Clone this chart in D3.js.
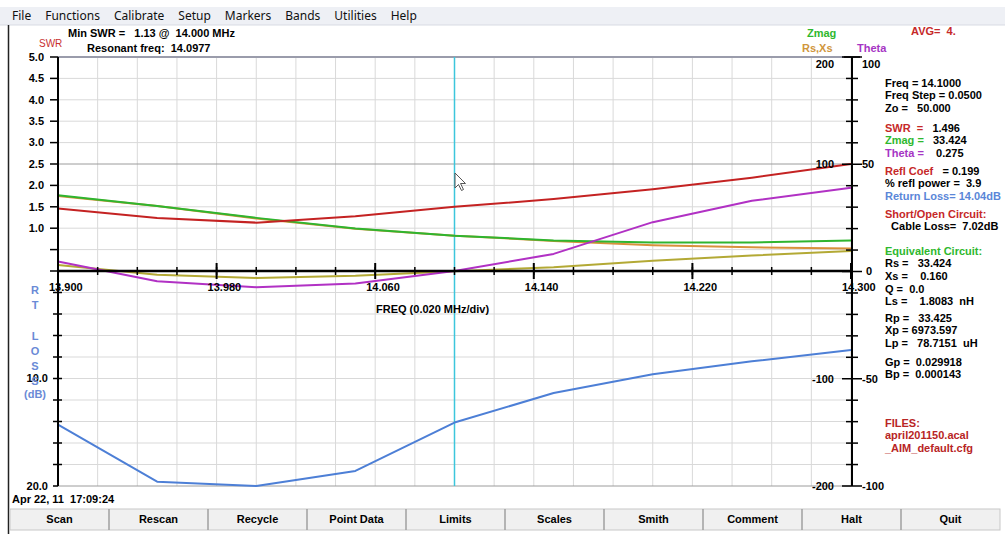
<!DOCTYPE html>
<html>
<head>
<meta charset="utf-8">
<script src="https://cdn.jsdelivr.net/npm/d3@7"></script>
<style>
html, body { margin: 0; padding: 0; background: #fff; }
svg { display: block; font-family: "Liberation Sans", Arial, sans-serif; }
text { white-space: pre; }
.b { font-weight: bold; font-size: 11px; }
.menu { font-family: "Noto Sans", sans-serif; font-size: 12px; fill: #111; }
</style>
</head>
<body>
<svg id="chart" width="1005" height="534"></svg>
<script>

// sweep data (one point every Freq Step)
var freqs    = [13.90, 13.95, 14.00, 14.05, 14.10, 14.15, 14.20, 14.25, 14.30];
var swr      = [1.46, 1.24, 1.13, 1.28, 1.50, 1.68, 1.91, 2.18, 2.50];
var zmag     = [71, 61, 50, 40, 33.4, 29, 27, 27, 29];
var rs       = [70.5, 61, 49.5, 39.8, 33.4, 28.5, 24.5, 22.5, 21.5];
var xs       = [6, -3, -6, -4, 0.16, 4, 10, 15, 19];
var theta    = [4.7, -4.5, -7.3, -5.6, 0.275, 8.2, 23, 33, 39];
var retLoss  = [14.3, 19.6, 20.0, 18.6, 14.1, 11.35, 9.6, 8.4, 7.35];
var markerFreq = 14.10;

// axis ticks / labels
var freqMajor   = [13.90, 13.98, 14.06, 14.14, 14.22, 14.30];
var freqLabels  = ["13.900", "13.980", "14.060", "14.140", "14.220", "14.300"];
var swrTicks    = [5.0, 4.5, 4.0, 3.5, 3.0, 2.5, 2.0, 1.5, 1.0, 0.5, 0];
var swrLabels   = ["5.0", "4.5", "4.0", "3.5", "3.0", "2.5", "2.0", "1.5", "1.0", "", ""];
var rlTicks     = [2, 4, 6, 8, 10, 12, 14, 16, 18, 20];
var rlLabels    = ["", "", "", "", "10.0", "", "", "", "", "20.0"];
var zLabelVals  = [200, 100, -100, -200];
var zLabels     = ["200", "100", "-100", "-200"];
var thLabelVals = [100, 50, 0, -50, -100];
var thLabels    = ["100", "50", "0", "-50", "-100"];
var rlTitle     = ["R", "T", "", "L", "O", "S", "S"];

var menuItems = ["File", "Functions", "Calibrate", "Setup", "Markers", "Bands", "Utilities", "Help"];
var buttons   = ["Scan", "Rescan", "Recycle", "Point Data", "Limits", "Scales", "Smith", "Comment", "Halt", "Quit"];

// readout panel: groups of lines, each line a list of [text, colour]
var readout = [
  [[["Freq = 14.1000", "#000"]], [["Freq Step = 0.0500", "#000"]], [["Zo =   50.000", "#000"]]],
  [[["SWR  =   ", "#c62828"], ["1.496", "#000"]], [["Zmag =   ", "#2eb82e"], ["33.424", "#000"]], [["Theta =    ", "#a635c4"], ["0.275", "#000"]]],
  [[["Refl Coef   ", "#c62828"], ["= 0.199", "#000"]], [["% refl power =  3.9", "#000"]], [["Return Loss= 14.04dB", "#5a86d8"]]],
  [[["Short/Open Circuit:", "#c62828"]], [["  Cable Loss=  7.02dB", "#000"]]],
  [[["Equivalent Circuit:", "#2eb82e"]], [["Rs =   33.424", "#000"]], [["Xs =    0.160", "#000"]], [["Q =  0.0", "#000"]], [["Ls =    1.8083  nH", "#000"]]],
  [[["Rp =   33.425", "#000"]], [["Xp = 6973.597", "#000"]], [["Lp =   78.7151  uH", "#000"]]],
  [[["Gp =  0.029918", "#000"]], [["Bp =  0.000143", "#000"]]],
  [[["FILES:", "#b82525"]], [["april201150.acal", "#b82525"]], [["_AIM_default.cfg", "#b82525"]]]
];
var readoutTop = [83, 128, 171, 214, 251, 318, 362, 423];

(function() {
var svg = d3.select("#chart");

var pLeft = 58, pRight = 851, pTop = 57, pMid = 271, pBottom = 486;
var x    = d3.scaleLinear().domain([13.9, 14.3]).range([pLeft, pRight]);
var ySwr = d3.scaleLinear().domain([0, 5]).range([pMid, pTop]);
var yRL  = d3.scaleLinear().domain([0, 20]).range([pMid, pBottom]);
var yZ   = d3.scaleLinear().domain([-200, 200]).range([pBottom, pTop]);
var yTh  = d3.scaleLinear().domain([-100, 100]).range([pBottom, pTop]);

// menu bar
svg.append("rect").attr("x", 0).attr("y", 7).attr("width", 1005).attr("height", 18).attr("fill", "#eef0f5");
svg.append("line").attr("x1", 0).attr("x2", 1005).attr("y1", 25).attr("y2", 25).attr("stroke", "#d8dbe3");
var mx = 12;
menuItems.forEach(function(m) {
  var t = svg.append("text").attr("class", "menu").attr("x", mx).attr("y", 20).text(m);
  mx += t.node().getComputedTextLength() + 14;
});
svg.append("line").attr("x1", 8.5).attr("x2", 8.5).attr("y1", 25).attr("y2", 534).attr("stroke", "#222").attr("stroke-width", 1.5);

// grid
var grid = svg.append("g").attr("stroke", "#d9d9d9").attr("stroke-width", 1);
d3.range(0, 21).forEach(function(i) {
  var gx = x(13.9 + i * 0.02);
  grid.append("line").attr("x1", gx).attr("x2", gx).attr("y1", pTop).attr("y2", pBottom);
});
swrTicks.forEach(function(v) {
  grid.append("line").attr("x1", pLeft).attr("x2", pRight).attr("y1", ySwr(v)).attr("y2", ySwr(v))
    .attr("stroke", v === 2.5 ? "#9c9c9c" : null);
});
rlTicks.forEach(function(v) {
  grid.append("line").attr("x1", pLeft).attr("x2", pRight).attr("y1", yRL(v)).attr("y2", yRL(v))
    .attr("stroke", v === 20 ? "#9c9c9c" : null);
});
svg.append("line").attr("x1", pLeft).attr("x2", pRight).attr("y1", pTop).attr("y2", pTop)
  .attr("stroke", "#9a9cab").attr("stroke-width", 2);

// marker
svg.append("line").attr("x1", x(markerFreq)).attr("x2", x(markerFreq)).attr("y1", pTop).attr("y2", pBottom)
  .attr("stroke", "#3cc6dc").attr("stroke-width", 1.5);

// curves
function curve(vals, ys, color) {
  var line = d3.line().x(function(d, i) { return x(freqs[i]); }).y(function(d) { return ys(d); });
  svg.append("path").datum(vals).attr("d", line).attr("fill", "none")
    .attr("stroke", color).attr("stroke-width", 2).attr("stroke-linejoin", "round");
}
curve(rs, yZ, "#d8913a");
curve(xs, yZ, "#b3a935");
curve(zmag, yZ, "#2fb52f");
curve(theta, yTh, "#b131c4");
curve(swr, ySwr, "#c42222");
curve(retLoss, yRL, "#4d7fd6");

// left axis
var gL = svg.append("g").attr("transform", "translate(" + pLeft + ",0)");
gL.append("line").attr("y1", pTop).attr("y2", pBottom).attr("stroke", "#000").attr("stroke-width", 2);
swrTicks.forEach(function(v, i) {
  gL.append("line").attr("x1", -8).attr("x2", 0).attr("y1", ySwr(v)).attr("y2", ySwr(v)).attr("stroke", "#000").attr("stroke-width", 1.5);
  gL.append("text").attr("class", "b").attr("x", -14).attr("y", ySwr(v)).attr("dy", "0.35em")
    .attr("text-anchor", "end").text(swrLabels[i]);
});
rlTicks.forEach(function(v, i) {
  gL.append("line").attr("x1", -5).attr("x2", i === rlTicks.length - 1 ? 0 : 4).attr("y1", yRL(v)).attr("y2", yRL(v)).attr("stroke", "#000").attr("stroke-width", 1.5);
  gL.append("text").attr("class", "b").attr("x", -10).attr("y", yRL(v)).attr("dy", "0.35em")
    .attr("text-anchor", "end").text(rlLabels[i]);
});
rlTitle.forEach(function(c, i) {
  svg.append("text").attr("class", "b").attr("x", 35).attr("y", 294 + i * 15.2)
    .attr("text-anchor", "middle").attr("fill", "#6a8ad6").text(c);
});
svg.append("text").attr("class", "b").attr("x", 35).attr("y", 398)
  .attr("text-anchor", "middle").attr("fill", "#6a8ad6").text("(dB)");

// frequency axis on the zero line
var gX = svg.append("g");
gX.append("line").attr("x1", pLeft).attr("x2", pRight).attr("y1", pMid).attr("y2", pMid).attr("stroke", "#000").attr("stroke-width", 2.5);
d3.range(0, 21).forEach(function(i) {
  var gx = x(13.9 + i * 0.02);
  gX.append("line").attr("x1", gx).attr("x2", gx).attr("y1", pMid - 4).attr("y2", pMid + 4).attr("stroke", "#000").attr("stroke-width", 1.5);
});
freqMajor.forEach(function(f, i) {
  gX.append("line").attr("x1", x(f)).attr("x2", x(f)).attr("y1", pMid - 8).attr("y2", pMid + 8).attr("stroke", "#000").attr("stroke-width", 2);
  gX.append("text").attr("class", "b").attr("x", x(f) - 9).attr("y", 291).text(freqLabels[i]);
});
svg.append("text").attr("class", "b").attr("x", 376).attr("y", 313).text("FREQ (0.020 MHz/div)");

// right axis (Zmag / Rs,Xs on the inside, Theta on the outside)
var ax = 852;
var gR = svg.append("g");
gR.append("line").attr("x1", ax).attr("x2", ax).attr("y1", pTop).attr("y2", pBottom).attr("stroke", "#000").attr("stroke-width", 2);
gR.append("line").attr("x1", ax - 8).attr("x2", ax + 8).attr("y1", pTop).attr("y2", pTop).attr("stroke", "#000").attr("stroke-width", 1.5);
d3.range(-200, 201, 20).forEach(function(v) {
  var big = v % 100 === 0;
  gR.append("line").attr("x1", big ? ax - 10 : ax - 6).attr("x2", big ? ax + 10 : ax + 6)
    .attr("y1", yZ(v)).attr("y2", yZ(v)).attr("stroke", "#000").attr("stroke-width", 1.5);
});
zLabelVals.forEach(function(v, i) {
  gR.append("text").attr("class", "b").attr("x", ax - 18).attr("y", yZ(v) + (v === 200 ? 7 : 0)).attr("dy", "0.35em")
    .attr("text-anchor", "end").text(zLabels[i]);
});
thLabelVals.forEach(function(v, i) {
  gR.append("text").attr("class", "b").attr("x", ax + (v === 0 ? 14 : 10)).attr("y", yTh(v) + (v === 100 ? 7 : 0)).attr("dy", "0.35em")
    .text(thLabels[i]);
});

// header
svg.append("text").attr("class", "b").attr("x", 68).attr("y", 37).text("Min SWR =   1.13 @  14.000 MHz");
svg.append("text").attr("class", "b").attr("x", 87).attr("y", 52).text("Resonant freq:  14.0977");
svg.append("text").attr("x", 39).attr("y", 47).attr("font-size", 10).attr("fill", "#c83030").text("SWR");
svg.append("text").attr("class", "b").attr("x", 807).attr("y", 37).attr("fill", "#2eb82e").text("Zmag");
svg.append("text").attr("class", "b").attr("x", 802).attr("y", 52).attr("fill", "#d0963c").text("Rs,Xs");
svg.append("text").attr("class", "b").attr("x", 857).attr("y", 52).attr("fill", "#a635c4").text("Theta");
svg.append("text").attr("class", "b").attr("x", 911).attr("y", 35).attr("fill", "#c62828").text("AVG=  4.");

// readout panel
readout.forEach(function(group, gi) {
  group.forEach(function(line, li) {
    var t = svg.append("text").attr("class", "b").attr("x", 885).attr("y", readoutTop[gi] + li * 12.6).attr("dy", "0.35em");
    line.forEach(function(seg) { t.append("tspan").attr("fill", seg[1]).text(seg[0]); });
  });
});

// mouse pointer
svg.append("path").attr("transform", "translate(455,173)")
  .attr("d", "M0,0 L0,15 L3.5,11.5 L6.5,17.5 L8.5,16.5 L5.5,10.5 L10.5,10.5 Z")
  .attr("fill", "#fff").attr("stroke", "#555").attr("stroke-width", 1);

// footer
svg.append("text").attr("class", "b").attr("x", 12).attr("y", 503).text("Apr 22, 11  17:09:24");
var bw = 99, bx0 = 10;
svg.append("rect").attr("x", bx0).attr("y", 509).attr("width", bw * buttons.length).attr("height", 21)
  .attr("fill", "#f0f0f0").attr("stroke", "#c8c8c8");
buttons.forEach(function(b, i) {
  var bx = bx0 + i * bw;
  if (i > 0) svg.append("line").attr("x1", bx).attr("x2", bx).attr("y1", 509).attr("y2", 530).attr("stroke", "#a0a0a0").attr("stroke-width", 1.5);
  svg.append("text").attr("class", "b").attr("x", bx + bw / 2).attr("y", 523).attr("text-anchor", "middle").text(b);
});
})();

</script>
</body>
</html>
